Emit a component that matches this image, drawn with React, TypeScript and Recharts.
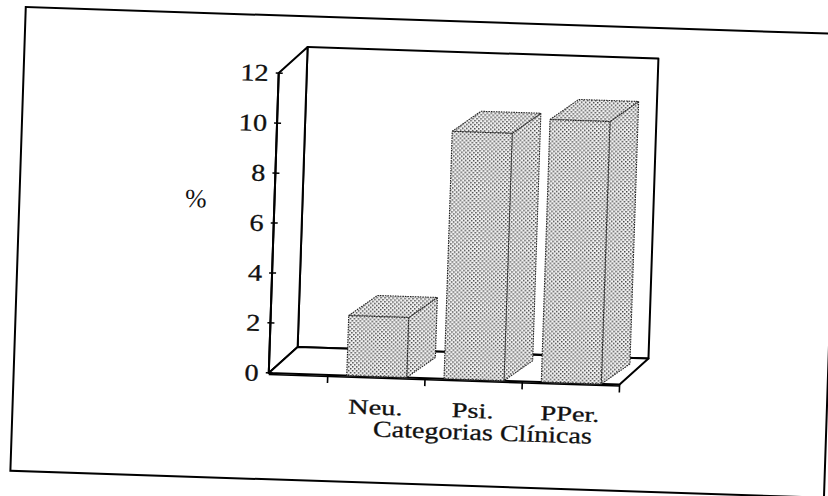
import React from 'react';
import { BarChart, Bar, XAxis, YAxis, ReferenceArea } from 'recharts';

const categories = ['Neu.', 'Psi.', 'PPer.'];
const percentValues = [2.4, 9.9, 10.5];
const yTicks = [0, 2, 4, 6, 8, 10, 12];
const yAxisTitle = '%';
const xAxisTitle = 'Categorias Clínicas';

const data = categories.map((c, i) => ({ cat: c, value: percentValues[i] }));

const FONT = '"Liberation Serif", "Times New Roman", serif';
const X_PAD_LEFT = 59;
const BAR_DX = 28;
const BAR_DY = -21;
const WALL_DX = 28;
const WALL_DY = -27;

function Bar3D(props: any) {
  const { x, y, width, height } = props;
  if (width == null || height == null) return null;
  const r = x + width;
  const b = y + height;
  const common = {
    fill: 'url(#dots)',
    stroke: '#222',
    strokeWidth: 1.1,
    strokeDasharray: '1.5 1',
    strokeLinejoin: 'round' as const,
  };
  return (
    <g>
      <polygon
        {...common}
        points={`${r},${y} ${r + BAR_DX},${y + BAR_DY} ${r + BAR_DX},${b + BAR_DY} ${r},${b}`}
      />
      <polygon
        {...common}
        points={`${x},${y} ${x + BAR_DX},${y + BAR_DY} ${r + BAR_DX},${y + BAR_DY} ${r},${y}`}
      />
      <rect {...common} x={x} y={y} width={width} height={height} />
    </g>
  );
}

function Walls(props: any) {
  const x = props.x - X_PAD_LEFT;
  const { y, height } = props;
  const r = props.x + props.width;
  const width = r - x;
  const b = y + height;
  const s = { fill: '#fff', stroke: '#000', strokeWidth: 2, strokeLinejoin: 'round' as const };
  return (
    <g>
      <rect {...s} x={x + WALL_DX} y={y + WALL_DY} width={width} height={height} />
      <polygon
        {...s}
        points={`${x},${b} ${x},${y} ${x + WALL_DX},${y + WALL_DY} ${x + WALL_DX},${b + WALL_DY}`}
      />
      <polygon
        {...s}
        points={`${x},${b} ${r},${b} ${r + WALL_DX},${b + WALL_DY} ${x + WALL_DX},${b + WALL_DY}`}
      />
      <line x1={x} y1={b + 1.5} x2={r} y2={b + 1.5} stroke="#000" strokeWidth={1.5} />
    </g>
  );
}

function XTick(props: any) {
  const { x, y, payload } = props;
  const half = payload && payload.offset ? payload.offset : 48.6;
  const isLast = payload && payload.value === categories[categories.length - 1];
  return (
    <g>
      <line x1={x - half} y1={y} x2={x - half} y2={y + 8} stroke="#000" strokeWidth={1.6} />
      {isLast && (
        <line x1={x + half} y1={y} x2={x + half} y2={y + 8} stroke="#000" strokeWidth={1.6} />
      )}
      <text
        transform={`translate(${x},${y + 38}) scale(1.35,1)`}
        textAnchor="middle"
        fontFamily={FONT}
        fontSize={21}
        fill="#111"
        stroke="#111"
        strokeWidth={0.3}
      >
        {payload.value}
      </text>
    </g>
  );
}

function YTick(props: any) {
  const { x, y, payload } = props;
  return (
    <g>
      <line x1={x + 7} y1={y} x2={x + 14} y2={y} stroke="#000" strokeWidth={1.5} />
      <text
        transform={`translate(${x},${y}) scale(1.18,1)`}
        textAnchor="end"
        dy="0.35em"
        fontFamily={FONT}
        fontSize={24}
        fill="#111"
        stroke="#111"
        strokeWidth={0.3}
      >
        {payload.value}
      </text>
    </g>
  );
}

function PercentLabel(props: any) {
  const vb = props.viewBox || {};
  const cx = vb.x - 18.6;
  const cy = vb.y + vb.height / 2 - 22.3;
  return (
    <text
      x={cx}
      y={cy}
      dy="0.35em"
      textAnchor="middle"
      fontFamily={FONT}
      fontSize={26}
      fill="#111"
    >
      {yAxisTitle}
    </text>
  );
}

function TitleLabel(props: any) {
  const vb = props.viewBox || {};
  const cx = vb.x + vb.width / 2 + 40;
  const by = vb.y + 60;
  return (
    <text
      transform={`translate(${cx},${by}) scale(1.22,1)`}
      textAnchor="middle"
      fontFamily={FONT}
      fontSize={23}
      fill="#111"
      stroke="#111"
      strokeWidth={0.3}
    >
      {xAxisTitle}
    </text>
  );
}

export default function App() {
  return (
    <div
      style={{
        position: 'absolute',
        left: 0,
        top: 0,
        width: 828,
        height: 496,
        overflow: 'hidden',
        background: '#fff',
      }}
    >
      <div
        style={{
          position: 'absolute',
          left: 0,
          top: 0,
          width: 828,
          height: 496,
          transform: 'rotate(1.9deg)',
          transformOrigin: '414px 248px',
        }}
      >
        <div
          style={{
            position: 'absolute',
            left: 17,
            top: 19,
            width: 816,
            height: 466,
            border: '2px solid #000',
            boxSizing: 'border-box',
          }}
        />
        <div style={{ position: 'absolute', left: 0, top: 0 }}>
          <BarChart
            width={828}
            height={496}
            data={data}
            margin={{ top: 77.6, right: 204, bottom: 88.3, left: 213 }}
          >
            <defs>
              <pattern id="dots" width="4" height="4" patternUnits="userSpaceOnUse">
                <rect width="4" height="4" fill="#f4f4f4" />
                <rect x="0" y="0" width="1.5" height="1.5" fill="#444" />
                <rect x="2" y="2" width="1.5" height="1.5" fill="#444" />
              </pattern>
            </defs>
            <XAxis
              dataKey="cat"
              height={30}
              padding={{ left: X_PAD_LEFT, right: 0 }}
              axisLine={false}
              tickLine={false}
              tickSize={0}
              tickMargin={0}
              interval={0}
              tick={<XTick />}
              label={<TitleLabel />}
            />
            <YAxis
              width={60}
              domain={[0, 12]}
              ticks={yTicks}
              interval={0}
              tickLine={false}
              tickSize={0}
              tickMargin={10}
              tick={<YTick />}
              axisLine={{ stroke: '#000', strokeWidth: 2 }}
              label={<PercentLabel />}
            />
            <ReferenceArea y1={0} y2={12} ifOverflow="visible" shape={<Walls />} />
            <Bar dataKey="value" barSize={60} isAnimationActive={false} shape={<Bar3D />} />
          </BarChart>
        </div>
      </div>
    </div>
  );
}
